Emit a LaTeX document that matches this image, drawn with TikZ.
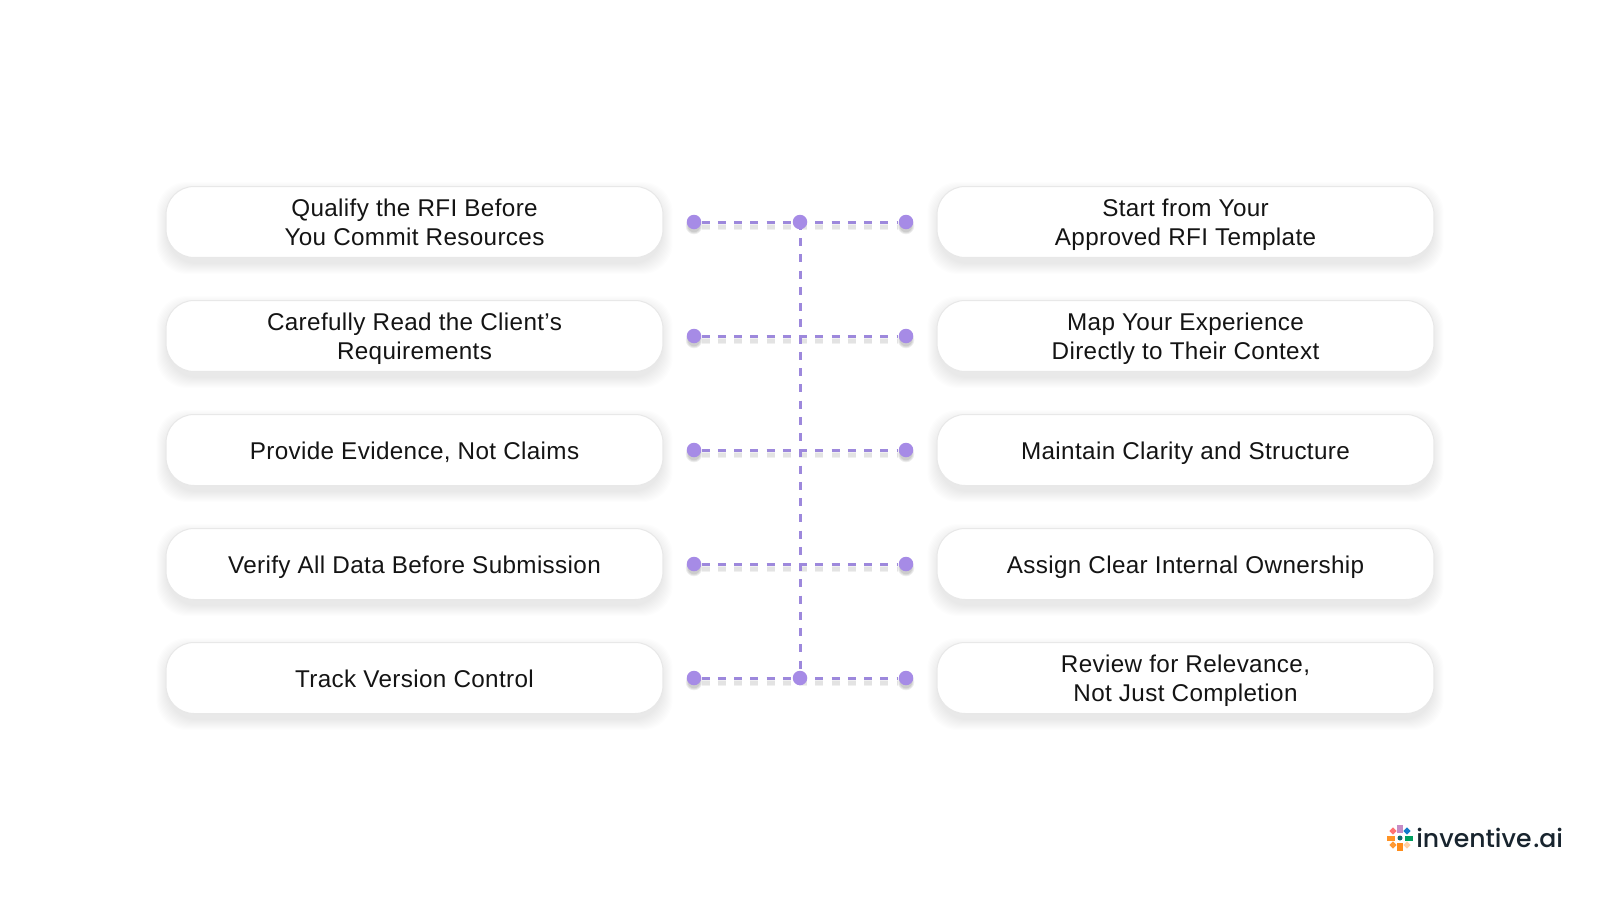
\documentclass[tikz,border=0pt]{standalone}
\usepackage{fontspec}
\setmainfont[LetterSpace=1.5]{Liberation Sans}
\newfontfamily\logofont[Ligatures=NoCommon]{Poppins Medium}
\usepackage{tikz}
\usetikzlibrary{calc, positioning}
\definecolor{dotpurple}{HTML}{A68BE6}
\definecolor{dashpurple}{HTML}{9D88DC}
\definecolor{logoink}{HTML}{18242E}
\newcommand{\pillrow}[1]{\raisebox{-1.8pt}[10pt][3pt]{#1}}
\tikzset{
    pill/.style={rectangle, rounded corners=0.56cm, draw=black!9, line width=0.02cm, fill=white,
        minimum width=9.94cm, minimum height=1.42cm, inner sep=0pt, align=center,
        font=\fontsize{13.8}{16.4}\selectfont, text=black!92},
    oneline/.style={pill, execute at begin node={\rule{0pt}{16pt}}, execute at end node={\rule[-4.9pt]{0pt}{0pt}}},
    dot/.style={circle, fill=dotpurple, minimum size=0.29cm, inner sep=0pt},
    dotglow/.style={circle, fill=black, opacity=0.07, inner sep=0pt},
    dashline/.style={draw=dashpurple, line width=0.06cm, dash pattern=on 0.16cm off 0.165cm},
    dashglow/.style={draw=black!40, opacity=0.14, dash pattern=on 0.16cm off 0.165cm,
        transform canvas={yshift=-0.09cm}},
    petal/.style={inner sep=0pt, rectangle},
}
\begin{document}
\begin{tikzpicture}[x=0.02cm, y=-0.02cm]
    \useasboundingbox (0,0) rectangle (1600,900);
    \fill[white] (0,0) rectangle (1600,900);
    % soft shadows under the pills
    \foreach \y in {222,336,450,564,678} {
        \foreach \x in {414.5,1185.5} {
            \foreach \g in {0,...,10} {
                \fill[black, opacity=0.008, rounded corners=0.6cm]
                    (\x-248-\g,\y-30-\g) rectangle (\x+248+\g,\y+42+\g);
            }
        }
    }
    % pills
    \node[pill] (l1) at (414.5,222) {\pillrow{Qualify the RFI Before}\\\pillrow{You Commit Resources}};
    \node[pill] (l2) at (414.5,336) {\pillrow{Carefully Read the Client’s}\\\pillrow{Requirements}};
    \node[oneline] (l3) at (414.5,450) {Provide Evidence, Not Claims};
    \node[oneline] (l4) at (414.5,564) {Verify All Data Before Submission};
    \node[oneline] (l5) at (414.5,678) {Track Version Control};
    \node[pill] (r1) at (1185.5,222) {\pillrow{Start from Your}\\\pillrow{Approved RFI Template}};
    \node[pill] (r2) at (1185.5,336) {\pillrow{Map Your Experience}\\\pillrow{Directly to Their Context}};
    \node[oneline] (r3) at (1185.5,450) {Maintain Clarity and Structure};
    \node[oneline] (r4) at (1185.5,564) {Assign Clear Internal Ownership};
    \node[pill] (r5) at (1185.5,678) {\pillrow{Review for Relevance,}\\\pillrow{Not Just Completion}};
    % dots and dashes
    \foreach \i/\y in {1/222,2/336,3/450,4/564,5/678} {
        \foreach \x in {694,906} {
            \node[dotglow, minimum size=0.33cm] at (\x,\y+4) {};
            \node[dotglow, minimum size=0.29cm] at (\x,\y+4) {};
            \node[dotglow, minimum size=0.25cm] at (\x,\y+4) {};
        }
        \node[dot] (a\i) at (694,\y) {};
        \node[dot] (b\i) at (906,\y) {};
        \coordinate (m\i) at (800,\y);
        \draw[dashglow, line width=0.14cm] (a\i) -- (b\i);
        \draw[dashglow, line width=0.08cm] (a\i) -- (b\i);
        \draw[dashline] (a\i) -- (b\i);
    }
    \draw[dashline] (m1) -- (m5);
    \node[dot] (top) at (m1) {};
    \node[dot] (bottom) at (m5) {};
    % logo
    \node[circle, fill=logoink!70!cyan, minimum size=0.1cm, inner sep=0pt] (hub) at (1400,838) {};
    \node[petal, fill=violet!45, above=0.04cm of hub, minimum height=0.15cm, minimum width=0.12cm] (pa) {};
    \node[petal, fill=teal!75!green, right=0.04cm of hub, minimum width=0.15cm, minimum height=0.1cm] (pb) {};
    \node[petal, fill=orange!85, left=0.04cm of hub, minimum width=0.15cm, minimum height=0.1cm] (pc) {};
    \node[petal, fill=orange!90, below=0.04cm of hub, minimum height=0.15cm, minimum width=0.12cm] (pd) {};
    \node[petal, fill=cyan!60!blue, rotate=45, minimum size=0.1cm] (pe) at (1407,831) {};
    \node[petal, fill=red!55, rotate=45, minimum size=0.1cm] (pf) at (1393,831) {};
    \node[petal, fill=orange!80, rotate=45, minimum size=0.1cm] (pg) at (1393,845) {};
    \node[petal, fill=orange!35, rotate=45, minimum size=0.1cm] (ph) at (1407,845) {};
    \node[anchor=base west, inner sep=0pt, text=logoink, font=\logofont\fontsize{14.3}{20}\selectfont] (brand) at (1416,847) {inventive\hspace{1pt}.ai};
\end{tikzpicture}
\end{document}
